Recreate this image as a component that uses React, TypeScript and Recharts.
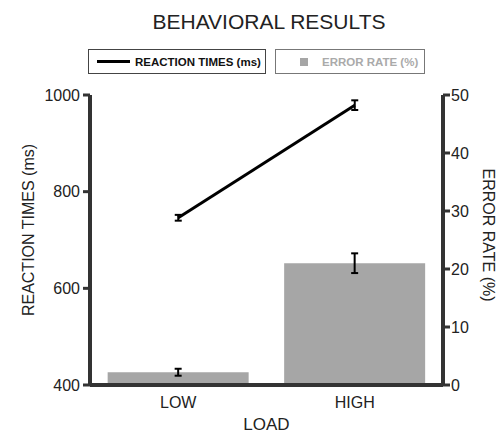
import React from 'react';
import { ComposedChart, Bar, Line, XAxis, YAxis, ErrorBar, Label } from 'recharts';

const categories = ['LOW', 'HIGH'];
const reactionTimes = [746, 979];
const reactionTimeErr = [6, 10];
const errorRates = [2.2, 21.0];
const errorRateErr = [0.6, 1.7];

const rtTicks = [400, 600, 800, 1000];
const erTicks = [0, 10, 20, 30, 40, 50];

const data = categories.map((name, i) => ({
  name,
  rt: reactionTimes[i],
  rtErr: reactionTimeErr[i],
  er: errorRates[i],
  erErr: errorRateErr[i],
}));

const FONT = '"Liberation Sans", Arial, Helvetica, sans-serif';
const AXIS = '#333';
const BAR = '#a6a6a6';

const LeftLabel: React.FC<any> = ({ viewBox }) => {
  const x = viewBox.x;
  const y = viewBox.y + viewBox.height / 2 - 10;
  return (
    <text x={x} y={y} transform={`rotate(-90 ${x} ${y})`} textAnchor="middle" dominantBaseline="central"
      fontSize={16} fill="#222" fontFamily={FONT}>
      REACTION TIMES (ms)
    </text>
  );
};

const RightLabel: React.FC<any> = ({ viewBox }) => {
  const x = viewBox.x + 45;
  const y = viewBox.y + viewBox.height / 2 - 5;
  return (
    <text x={x} y={y} transform={`rotate(90 ${x} ${y})`} textAnchor="middle" dominantBaseline="central"
      fontSize={16} fill="#222" fontFamily={FONT}>
      ERROR RATE (%)
    </text>
  );
};

const LegendBoxes = () => (
  <div style={{ position: 'absolute', left: 0, top: 0, width: 500, height: 90, pointerEvents: 'none' }}>
    <div style={{ position: 'absolute', left: 88, top: 49, width: 178, height: 25, boxSizing: 'border-box',
      border: '1px solid #444', display: 'flex', alignItems: 'center', whiteSpace: 'nowrap' }}>
      <div style={{ marginLeft: 8, width: 33, height: 3, background: '#000', flexShrink: 0 }} />
      <span style={{ marginLeft: 5, fontSize: 11.5, fontWeight: 'bold', color: '#111' }}>REACTION TIMES (ms)</span>
    </div>
    <div style={{ position: 'absolute', left: 275, top: 49, width: 150, height: 25, boxSizing: 'border-box',
      border: '1px solid #777', display: 'flex', alignItems: 'center', whiteSpace: 'nowrap' }}>
      <div style={{ marginLeft: 24, width: 8, height: 8, background: BAR, flexShrink: 0 }} />
      <span style={{ marginLeft: 14, fontSize: 11.5, fontWeight: 'bold', color: '#aaa' }}>ERROR RATE (%)</span>
    </div>
  </div>
);

export default function App() {
  return (
    <div style={{ position: 'absolute', left: 0, top: 0, width: 500, height: 434, background: '#fff', fontFamily: FONT }}>
      <div style={{ position: 'absolute', left: 0, top: 10, width: 538, textAlign: 'center', fontSize: 21, color: '#222' }}>
        BEHAVIORAL RESULTS
      </div>
      <LegendBoxes />
      <ComposedChart width={500} height={434} data={data} barCategoryGap="10%"
        margin={{ top: 95, right: 0, bottom: 19, left: 28 }}>
        <XAxis dataKey="name" tickLine={false} tickSize={6} tickMargin={6} height={30}
          axisLine={{ stroke: AXIS, strokeWidth: 4 }} tick={{ fontSize: 16, fill: '#222', fontFamily: FONT }}>
          <Label value="LOAD" position="bottom" offset={3} fontSize={17} fill="#222" fontFamily={FONT} />
        </XAxis>
        <YAxis yAxisId="left" orientation="left" width={62} domain={[400, 1000]} ticks={rtTicks}
          allowDataOverflow tickSize={7} tickMargin={3}
          axisLine={{ stroke: AXIS, strokeWidth: 4 }} tickLine={{ stroke: AXIS, strokeWidth: 3 }}
          tick={{ fontSize: 16, fill: '#222', fontFamily: FONT }}>
          <Label content={<LeftLabel />} />
        </YAxis>
        <YAxis yAxisId="right" orientation="right" width={57} domain={[0, 50]} ticks={erTicks}
          tickSize={7} tickMargin={1}
          axisLine={{ stroke: AXIS, strokeWidth: 4 }} tickLine={{ stroke: AXIS, strokeWidth: 3 }}
          tick={{ fontSize: 16, fill: '#222', fontFamily: FONT }}>
          <Label content={<RightLabel />} />
        </YAxis>
        <Bar yAxisId="right" dataKey="er" fill={BAR} isAnimationActive={false}>
          <ErrorBar dataKey="erErr" width={3.5} stroke="#000" strokeWidth={2} direction="y" />
        </Bar>
        <Line yAxisId="left" dataKey="rt" stroke="#000" strokeWidth={3} dot={false} isAnimationActive={false}>
          <ErrorBar dataKey="rtErr" width={3.5} stroke="#000" strokeWidth={2} direction="y" />
        </Line>
      </ComposedChart>
    </div>
  );
}
